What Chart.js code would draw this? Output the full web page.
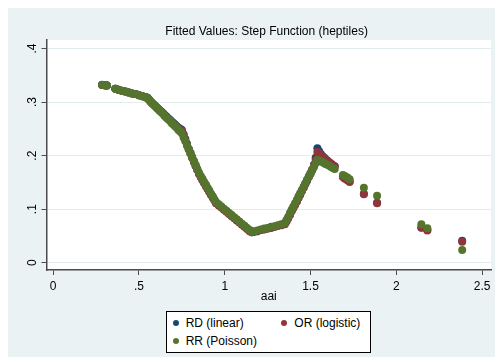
<!DOCTYPE html>
<html>
<head>
<meta charset="utf-8">
<script src="https://cdn.jsdelivr.net/npm/chart.js@4.4.1/dist/chart.umd.min.js"></script>
<style>
  html, body { margin: 0; padding: 0; background: #fff; }
  #wrap { position: relative; width: 495px; height: 361px; }
  canvas { display: block; }
  #legend {
    position: absolute; left: 166px; top: 311px; width: 203px; height: 40px;
    border: 1px solid #000; background: #fff;
    font: 12px "Liberation Sans", Arial, sans-serif; color: #000;
  }
  #legend .dot { position: absolute; width: 6px; height: 6px; border-radius: 50%; }
  #legend .lbl { position: absolute; white-space: nowrap; line-height: 14px; }
</style>
</head>
<body>
<div id="wrap">
  <canvas id="c" width="495" height="361"></canvas>
  <div id="legend"></div>
</div>
<script>
// aai values of the fitted observations (shared by all three models)
const aai = [
  0.285, 0.292, 0.299, 0.306, 0.313,
  0.362, 0.38, 0.40, 0.42, 0.44, 0.46, 0.48, 0.50, 0.52, 0.54, 0.55,
  0.56, 0.57, 0.58, 0.59, 0.60, 0.61, 0.62, 0.63, 0.64, 0.65,
  0.66, 0.67, 0.68, 0.69, 0.70, 0.71, 0.72, 0.73, 0.74, 0.75,
  0.76, 0.77, 0.78, 0.79, 0.80, 0.81, 0.82, 0.83, 0.84, 0.85,
  0.86, 0.87, 0.88, 0.89, 0.90, 0.91, 0.92, 0.93, 0.94, 0.95,
  0.965, 0.98, 0.995, 1.01, 1.025, 1.04, 1.055, 1.07, 1.085, 1.10, 1.115, 1.13, 1.145, 1.158,
  1.17, 1.19, 1.21, 1.23, 1.25, 1.27, 1.29, 1.31, 1.33, 1.35,
  1.36, 1.37, 1.38, 1.39, 1.40, 1.41, 1.42, 1.43, 1.44, 1.45,
  1.46, 1.47, 1.48, 1.49, 1.50, 1.51, 1.52, 1.53, 1.54,
  1.55, 1.56, 1.57, 1.58, 1.59, 1.60, 1.61, 1.62, 1.63, 1.641,
  1.689, 1.70, 1.715, 1.728,
  1.811, 1.888, 2.146, 2.181, 2.384
];

// Fitted values, risk difference model (linear)
const rdLinear = [
  0.3322, 0.3320, 0.3317, 0.3314, 0.3310,
  0.325, 0.323, 0.321, 0.320, 0.318, 0.316, 0.315, 0.313, 0.311, 0.309, 0.308,
  0.304, 0.300, 0.297, 0.294, 0.291, 0.288, 0.285, 0.282, 0.279, 0.276,
  0.273, 0.270, 0.267, 0.264, 0.261, 0.258, 0.255, 0.252, 0.250, 0.248,
  0.240, 0.231, 0.222, 0.213, 0.205, 0.197, 0.189, 0.181, 0.174, 0.166,
  0.160, 0.155, 0.149, 0.144, 0.138, 0.133, 0.127, 0.122, 0.117, 0.111,
  0.108, 0.104, 0.100, 0.096, 0.092, 0.088, 0.084, 0.080, 0.076, 0.072, 0.068, 0.064, 0.060, 0.057,
  0.058, 0.059, 0.061, 0.063, 0.064, 0.066, 0.067, 0.069, 0.071, 0.073,
  0.078, 0.084, 0.090, 0.097, 0.103, 0.109, 0.115, 0.122, 0.128, 0.135,
  0.141, 0.148, 0.154, 0.161, 0.167, 0.174, 0.183, 0.196, 0.214,
  0.208, 0.203, 0.199, 0.196, 0.193, 0.190, 0.187, 0.185, 0.182, 0.180,
  0.161, 0.158, 0.155, 0.152,
  0.129, 0.112, 0.066, 0.061, 0.041
];

// Fitted values, odds ratio model (logistic)
const orLogistic = [
  0.3321, 0.3319, 0.3316, 0.3313, 0.3309,
  0.325, 0.323, 0.321, 0.320, 0.318, 0.316, 0.315, 0.313, 0.311, 0.309, 0.307,
  0.304, 0.300, 0.297, 0.294, 0.291, 0.288, 0.285, 0.282, 0.279, 0.275,
  0.272, 0.269, 0.266, 0.263, 0.260, 0.257, 0.254, 0.251, 0.248, 0.246,
  0.238, 0.229, 0.220, 0.212, 0.204, 0.196, 0.188, 0.181, 0.173, 0.166,
  0.160, 0.154, 0.149, 0.143, 0.138, 0.132, 0.127, 0.122, 0.116, 0.111,
  0.107, 0.103, 0.099, 0.095, 0.091, 0.087, 0.083, 0.079, 0.075, 0.071, 0.067, 0.063, 0.059, 0.057,
  0.058, 0.059, 0.061, 0.062, 0.064, 0.065, 0.067, 0.069, 0.070, 0.072,
  0.077, 0.083, 0.089, 0.096, 0.102, 0.108, 0.114, 0.121, 0.127, 0.134,
  0.140, 0.147, 0.153, 0.160, 0.166, 0.173, 0.181, 0.192, 0.207,
  0.205, 0.201, 0.198, 0.195, 0.192, 0.190, 0.187, 0.184, 0.182, 0.1795,
  0.160, 0.157, 0.154, 0.151,
  0.128, 0.111, 0.0654, 0.060, 0.039
];

// Fitted values, risk ratio model (Poisson)
const rrPoisson = [
  0.3320, 0.3318, 0.3315, 0.3312, 0.3308,
  0.325, 0.323, 0.321, 0.320, 0.318, 0.316, 0.315, 0.313, 0.311, 0.309, 0.307,
  0.304, 0.300, 0.297, 0.294, 0.291, 0.287, 0.284, 0.281, 0.278, 0.274,
  0.271, 0.268, 0.265, 0.261, 0.258, 0.255, 0.252, 0.248, 0.245, 0.242,
  0.234, 0.227, 0.219, 0.212, 0.205, 0.197, 0.190, 0.183, 0.175, 0.168,
  0.162, 0.157, 0.151, 0.146, 0.140, 0.135, 0.129, 0.124, 0.118, 0.113,
  0.109, 0.105, 0.101, 0.097, 0.093, 0.089, 0.085, 0.081, 0.077, 0.073, 0.069, 0.065, 0.061, 0.058,
  0.059, 0.060, 0.062, 0.064, 0.065, 0.067, 0.068, 0.070, 0.072, 0.074,
  0.080, 0.086, 0.093, 0.099, 0.105, 0.111, 0.117, 0.124, 0.130, 0.136,
  0.142, 0.148, 0.155, 0.161, 0.167, 0.173, 0.179, 0.186, 0.192,
  0.191, 0.189, 0.188, 0.186, 0.184, 0.183, 0.181, 0.179, 0.177, 0.175,
  0.164, 0.162, 0.159, 0.156,
  0.140, 0.125, 0.0717, 0.0643, 0.0237
];

const seriesNames  = ['RD (linear)', 'OR (logistic)', 'RR (Poisson)'];
const seriesValues = [rdLinear, orLogistic, rrPoisson];
const seriesColors = ['#1A476F', '#90353B', '#55752F'];

const xTicks = [0, 0.5, 1, 1.5, 2, 2.5];
const xTickLabels = ['0', '.5', '1', '1.5', '2', '2.5'];
const yTicks = [0, 0.1, 0.2, 0.3, 0.4];
const yTickLabels = ['0', '.1', '.2', '.3', '.4'];

const FONT = '"Liberation Sans", Arial, Helvetica, sans-serif';
const AXIS = '#4a4a4a';

// Light blue graph region with a white plot region
const backgrounds = {
  id: 'backgrounds',
  beforeDraw(chart) {
    const { ctx, chartArea: a } = chart;
    ctx.save();
    ctx.fillStyle = '#ffffff';
    ctx.fillRect(0, 0, chart.width, chart.height);
    ctx.fillStyle = '#EAF2F3';
    ctx.fillRect(8, 8, chart.width - 8, chart.height - 12);
    ctx.fillStyle = '#ffffff';
    ctx.fillRect(a.left, a.top, a.right - a.left, a.bottom - a.top);
    ctx.restore();
  }
};

// Vertical (rotated) labels on the y axis
const yLabels = {
  id: 'yLabels',
  afterDraw(chart) {
    const { ctx } = chart;
    const y = chart.scales.y;
    ctx.save();
    ctx.fillStyle = '#000';
    ctx.font = '12px ' + FONT;
    ctx.textAlign = 'center';
    ctx.textBaseline = 'alphabetic';
    yTicks.forEach((v, i) => {
      ctx.save();
      ctx.translate(36, y.getPixelForValue(v));
      ctx.rotate(-Math.PI / 2);
      ctx.fillText(yTickLabels[i], 0, 0);
      ctx.restore();
    });
    ctx.restore();
  }
};

// RR drawn on top, RD underneath
const drawOrder = [2, 1, 0];

new Chart(document.getElementById('c'), {
  type: 'scatter',
  data: {
    datasets: seriesNames.map((name, k) => ({
      label: name,
      data: aai.map((x, i) => ({ x: x, y: seriesValues[k][i] })),
      backgroundColor: seriesColors[k],
      borderColor: seriesColors[k],
      borderWidth: 0,
      pointRadius: 4,
      pointHoverRadius: 4,
      order: drawOrder[k]
    }))
  },
  options: {
    responsive: false,
    animation: false,
    devicePixelRatio: 1,
    layout: { padding: { left: 39.2, right: 1, top: 0, bottom: 0 } },
    plugins: {
      legend: { display: false },
      tooltip: { enabled: false },
      title: {
        display: true,
        text: 'Fitted Values: Step Function (heptiles)',
        color: '#000',
        font: { family: FONT, size: 12, weight: 'normal' },
        padding: { top: 24.5, bottom: 1.1 }
      }
    },
    scales: {
      x: {
        type: 'linear',
        min: -0.039,
        max: 2.552,
        afterBuildTicks: s => { s.ticks = xTicks.map(v => ({ value: v })); },
        afterFit: s => { s.height = 91; },
        ticks: {
          color: '#000',
          font: { family: FONT, size: 12 },
          padding: 4,
          maxRotation: 0,
          autoSkip: false,
          callback: v => xTickLabels[xTicks.indexOf(v)]
        },
        grid: { drawOnChartArea: false, drawTicks: true, tickLength: 5, tickColor: AXIS, tickWidth: 1 },
        border: { display: true, color: AXIS, width: 1.5 },
        title: {
          display: true,
          text: 'aai',
          color: '#000',
          font: { family: FONT, size: 12 },
          padding: { top: 0, bottom: 57.5 }
        }
      },
      y: {
        type: 'linear',
        min: -0.0136,
        max: 0.416,
        afterBuildTicks: s => { s.ticks = yTicks.map(v => ({ value: v })); },
        afterFit: s => { s.width = 7.3; },
        ticks: { display: false },
        grid: { color: '#E3ECEF', lineWidth: 1, drawTicks: true, tickLength: 5, tickColor: AXIS, tickWidth: 1 },
        border: { display: true, color: AXIS, width: 1.5 }
      }
    }
  },
  plugins: [backgrounds, yLabels]
});

// Two-column boxed key under the plot
(function buildLegend() {
  const box = document.getElementById('legend');
  const spots = [
    { dx: 8.7, tx: 18.7, cy: 11.3 },
    { dx: 117.3, tx: 127.3, cy: 11.3 },
    { dx: 8.7, tx: 18.7, cy: 28.7 }
  ];
  seriesNames.forEach((name, k) => {
    const s = spots[k];
    const dot = document.createElement('span');
    dot.className = 'dot';
    dot.style.background = seriesColors[k];
    dot.style.left = (s.dx - 3) + 'px';
    dot.style.top = (s.cy - 3) + 'px';
    box.appendChild(dot);
    const lbl = document.createElement('span');
    lbl.className = 'lbl';
    lbl.textContent = name;
    lbl.style.left = s.tx + 'px';
    lbl.style.top = (s.cy - 7) + 'px';
    box.appendChild(lbl);
  });
})();
</script>
</body>
</html>
